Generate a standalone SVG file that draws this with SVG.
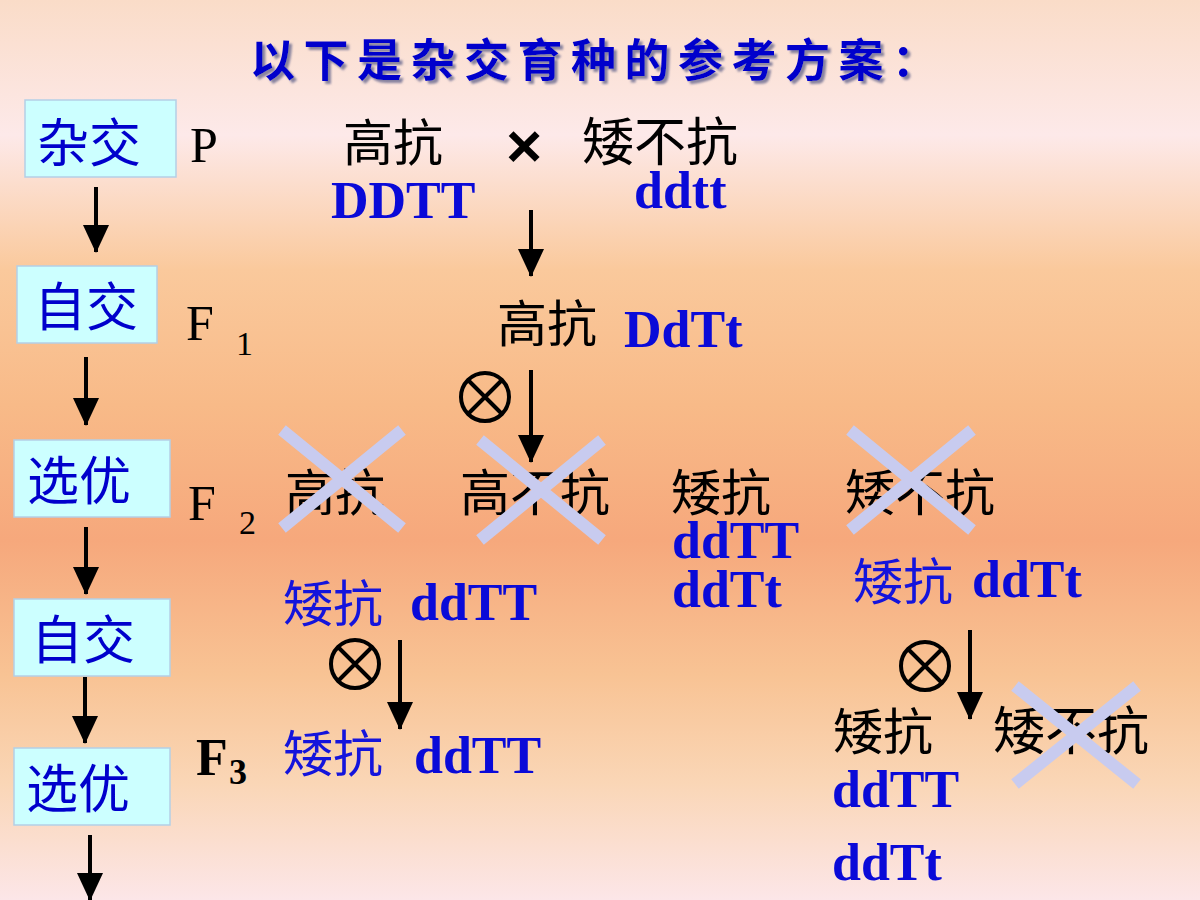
<svg xmlns="http://www.w3.org/2000/svg" width="1200" height="900" viewBox="0 0 1200 900">
<defs>
<linearGradient id="bg" x1="0" y1="0" x2="0" y2="1">
<stop offset="0" stop-color="#FADCC8"/>
<stop offset="0.15" stop-color="#FDE9E9"/>
<stop offset="0.3" stop-color="#FAC99C"/>
<stop offset="0.45" stop-color="#F8BA88"/>
<stop offset="0.6" stop-color="#F6A87C"/>
<stop offset="0.75" stop-color="#F8C394"/>
<stop offset="0.87" stop-color="#FAD6B6"/>
<stop offset="1" stop-color="#FCE6E8"/>
</linearGradient>
<marker id="ah" markerUnits="userSpaceOnUse" markerWidth="28" markerHeight="26" refX="27" refY="13" orient="auto" viewBox="0 0 28 26">
<path d="M0,0 L28,13 L0,26 Z" fill="#000"/>
</marker>
<filter id="shadow" x="-5%" y="-20%" width="110%" height="140%">
<feDropShadow dx="3" dy="3" stdDeviation="1" flood-color="#6A6A90" flood-opacity="0.8"/>
</filter>
</defs>
<style>
.box{fill:#CCFFFF;stroke:#B4CFE6;stroke-width:1.5}
.boxt{font-family:"Noto Sans CJK SC",sans-serif;font-size:52px;fill:#0000CC}
.cjk{font-family:"Noto Sans CJK SC",sans-serif;font-size:50px;fill:#000}
.cjkb{font-family:"Noto Sans CJK SC",sans-serif;font-size:50px;fill:#1414DC}
.gen{font-family:"Liberation Serif",serif;font-weight:bold;font-size:52px;fill:#0A0AD8}
.gl{font-family:"Liberation Serif",serif;font-size:50px;fill:#000}
.sub{font-family:"Liberation Serif",serif;font-size:34px;fill:#000}
.arr{stroke:#000;stroke-width:4;fill:none}
.cross{stroke:#C8CBEF;stroke-width:12;stroke-linecap:butt}
.self{fill:none;stroke:#000;stroke-width:4}
.title{font-family:"Noto Sans CJK SC",sans-serif;font-weight:bold;font-size:45px;letter-spacing:8.5px;fill:#0000CC}
</style>
<rect width="1200" height="900" fill="url(#bg)"/>

<g id="title">
<text class="title" x="250" y="77" filter="url(#shadow)">以下是杂交育种的参考方案：</text>
</g>

<g id="step1"><rect class="box" x="25" y="100" width="151" height="77"/><text class="boxt" x="37" y="162">杂交</text></g>
<g id="step2"><rect class="box" x="17" y="266" width="140" height="77"/><text class="boxt" x="34" y="326">自交</text></g>
<g id="step3"><rect class="box" x="14" y="440" width="156" height="77"/><text class="boxt" x="27" y="500">选优</text></g>
<g id="step4"><rect class="box" x="14" y="599" width="156" height="77"/><text class="boxt" x="31" y="659">自交</text></g>
<g id="step5"><rect class="box" x="14" y="748" width="156" height="77"/><text class="boxt" x="26" y="808">选优</text></g>

<g id="connectors">
<line class="arr" x1="96" y1="187" x2="96" y2="252" marker-end="url(#ah)"/>
<line class="arr" x1="86" y1="357" x2="86" y2="425" marker-end="url(#ah)"/>
<line class="arr" x1="86" y1="527" x2="86" y2="594" marker-end="url(#ah)"/>
<line class="arr" x1="85" y1="677" x2="85" y2="743" marker-end="url(#ah)"/>
<line class="arr" x1="90" y1="835" x2="90" y2="900" marker-end="url(#ah)"/>
<line class="arr" x1="531" y1="210" x2="531" y2="276" marker-end="url(#ah)"/>
<line class="arr" x1="531" y1="370" x2="531" y2="462" marker-end="url(#ah)"/>
<line class="arr" x1="400" y1="640" x2="400" y2="729" marker-end="url(#ah)"/>
<line class="arr" x1="970" y1="630" x2="970" y2="719" marker-end="url(#ah)"/>
</g>

<g id="P-row">
<text class="gl" x="190" y="162">P</text>
<text class="cjk" x="343" y="161">高抗</text>
<text x="524" y="167" text-anchor="middle" font-family="Liberation Sans, sans-serif" font-weight="bold" font-size="62" fill="#000">×</text>
<text class="cjk" x="582" y="161" style="font-size:52px">矮不抗</text>
<text class="gen" x="331" y="218">DDTT</text>
<text class="gen" x="634" y="208">ddtt</text>
</g>

<g id="F1-row">
<text class="gl" x="186" y="340">F</text>
<text class="sub" x="236" y="355">1</text>
<text class="cjk" x="497" y="342">高抗</text>
<text class="gen" x="624" y="347">DdTt</text>
<g id="self1"><circle class="self" cx="485" cy="397" r="24"/><path class="self" d="M468,380 L502,414 M502,380 L468,414"/></g>
</g>

<g id="F2-row">
<text class="gl" x="188" y="520">F</text>
<text class="sub" x="239" y="534">2</text>
<text class="cjk" x="285" y="511">高抗</text>
<text class="cjk" x="460" y="511">高不抗</text>
<text class="cjk" x="671" y="511">矮抗</text>
<text class="cjk" x="845" y="511">矮不抗</text>
<text class="gen" x="672" y="558">ddTT</text>
<text class="gen" x="672" y="607">ddTt</text>
<path class="cross" d="M282,430 L402,528 M402,430 L282,528"/>
<path class="cross" d="M480,440 L602,540 M602,440 L480,540"/>
<path class="cross" d="M850,430 L972,530 M972,430 L850,530"/>
</g>

<g id="sel-left">
<text class="cjkb" x="283" y="622">矮抗</text>
<text class="gen" x="410" y="620">ddTT</text>
<g id="self2"><circle class="self" cx="355" cy="664" r="24"/><path class="self" d="M338,647 L372,681 M372,647 L338,681"/></g>
</g>

<g id="sel-right">
<text class="cjkb" x="853" y="600">矮抗</text>
<text class="gen" x="972" y="597">ddTt</text>
<g id="self3"><circle class="self" cx="925" cy="666" r="24"/><path class="self" d="M908,649 L942,683 M942,649 L908,683"/></g>
</g>

<g id="F3-left">
<text x="196" y="775" font-family="Liberation Serif, serif" font-weight="bold" font-size="52" fill="#000">F</text>
<text x="229" y="784" font-family="Liberation Serif, serif" font-weight="bold" font-size="36" fill="#000">3</text>
<text class="cjkb" x="283" y="772">矮抗</text>
<text class="gen" x="414" y="773">ddTT</text>
</g>

<g id="F3-right">
<text class="cjk" x="833" y="750">矮抗</text>
<text class="cjk" x="993" y="750" style="font-size:52px">矮不抗</text>
<text class="gen" x="832" y="807">ddTT</text>
<text class="gen" x="832" y="880">ddTt</text>
<path class="cross" d="M1015,686 L1137,784 M1137,686 L1015,784"/>
</g>
</svg>
